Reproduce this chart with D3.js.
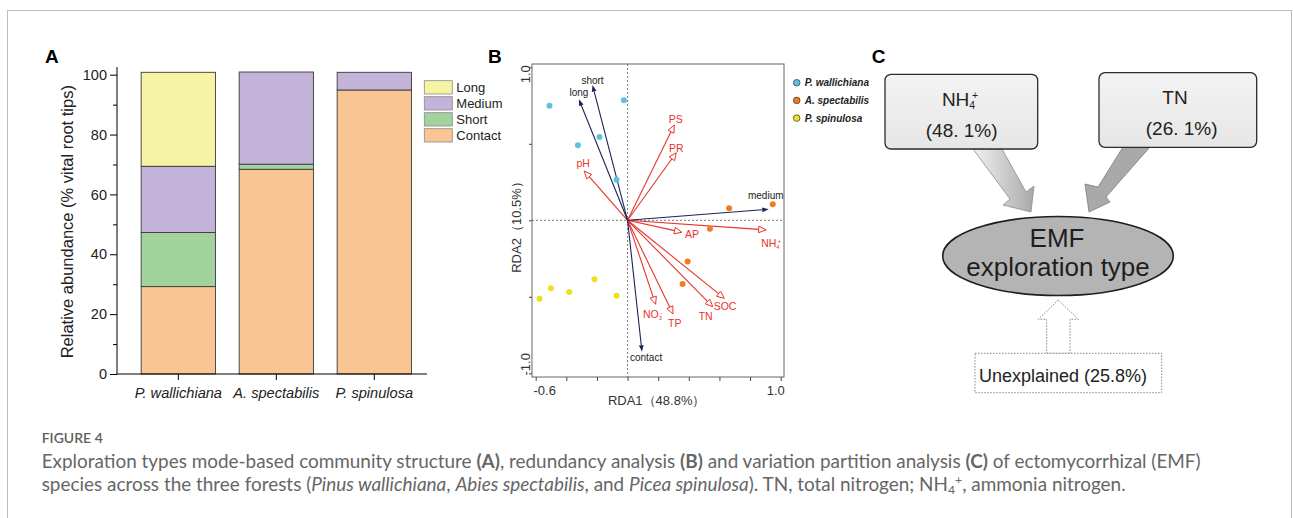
<!DOCTYPE html>
<html>
<head>
<meta charset="utf-8">
<script src="https://cdn.jsdelivr.net/npm/d3@7"></script>
<style>
  body { margin: 0; background: #fff; }
  svg { display: block; font-family: "Liberation Sans", Arial, sans-serif; }
</style>
</head>
<body>
<svg id="fig" width="1293" height="518"></svg>
<script>
// A: exploration type composition (% vital root tips)
const forests = ["P. wallichiana", "A. spectabilis", "P. spinulosa"];
const exploreTypes = ["Contact", "Short", "Medium", "Long"];
const contactPct = [29.2, 68.4, 94.9];
const shortPct = [18.1, 1.7, 0];
const mediumPct = [22.1, 30.8, 5.9];
const longPct = [31.4, 0, 0];
const abundanceTicks = [0, 20, 40, 60, 80, 100];

// B: RDA site scores, one pair of arrays per forest
const siteGroups = ["P. wallichiana", "A. spectabilis", "P. spinulosa"];
const pwRDA1 = [-0.51, -0.024, -0.183, -0.324, -0.072];
const pwRDA2 = [0.749, 0.784, 0.544, 0.49, 0.265];
const asRDA1 = [0.663, 0.948, 0.538, 0.392, 0.359];
const asRDA2 = [0.078, 0.105, -0.055, -0.27, -0.416];
const psRDA1 = [-0.575, -0.501, -0.381, -0.216, -0.072];
const psRDA2 = [-0.512, -0.444, -0.469, -0.386, -0.493];
// exploration type vectors
const typeNames = ["short", "long", "medium", "contact"];
const typeRDA1 = [-0.229, -0.318, 0.922, 0.094];
const typeRDA2 = [0.884, 0.791, 0.072, -0.859];
// soil variable vectors
const envNames = ["PS", "PR", "pH", "AP", "NH4+", "SOC", "TN", "TP", "NO3-"];
const envRDA1 = [0.305, 0.318, -0.283, 0.355, 0.905, 0.632, 0.556, 0.297, 0.183];
const envRDA2 = [0.623, 0.442, 0.322, -0.078, -0.063, -0.51, -0.565, -0.612, -0.549];
const rdaXTicks = [-0.6, -0.4, -0.2, 0, 0.2, 0.4, 0.6, 0.8, 1.0];
const rdaYTicks = [-1, -0.5, 0, 0.5, 1];
const rdaAxisPct = [48.8, 10.5];

// C: variation partitioning
const vpaNames = ["NH4+", "TN"];
const vpaPct = [48.1, 26.1];
const unexplainedPct = 25.8;

const svg = d3.select("#fig");

// outer frame of the figure
svg.append("rect")
    .attr("x", 7.5).attr("y", 10.5)
    .attr("width", 1284).attr("height", 540)
    .style("fill", "none").style("stroke", "#bdbdbd");

// NH4+ / NO3- style labels with sub- and superscript
function chem(sel, name, stacked) {
    const m = name.match(/^([A-Za-z]+)(\d)([+-])$/);
    if (!m) { sel.text(name); return; }
    sel.append("tspan").text(m[1]);
    sel.append("tspan").attr("font-size", "0.55em").attr("dy", "0.3em").text(m[2]);
    sel.append("tspan").attr("font-size", "0.55em").attr("dy", "-0.95em")
        .attr("dx", stacked ? "-0.3em" : 0).text(m[3] === "-" ? "-" : "+");
}

function panelLabel(txt, x) {
    svg.append("text").attr("x", x).attr("y", 63)
        .attr("font-size", 19).attr("font-weight", "bold").text(txt);
}

// ---------- A ----------
function drawBars() {
    const colors = {Contact: "#f9c592", Short: "#a2d39f", Medium: "#c3b3d8", Long: "#f7f3a5"};
    const rows = forests.map((f, i) => ({forest: f, Contact: contactPct[i], Short: shortPct[i],
                                         Medium: mediumPct[i], Long: longPct[i]}));
    const series = d3.stack().keys(exploreTypes)(rows);

    const x = d3.scaleBand().domain(forests).range([129.3, 423.3])
        .paddingInner(0.242).paddingOuter(0.121);
    const y = d3.scaleLinear().domain([0, 100]).range([374, 74.7]);

    const g = svg.append("g");
    g.selectAll("g.layer")
        .data(series)
        .join("g")
        .attr("class", "layer")
        .style("fill", d => colors[d.key])
        .selectAll("rect")
        .data(d => d.filter(s => s[1] - s[0] > 0))
        .join("rect")
        .attr("x", d => x(d.data.forest))
        .attr("y", d => y(d[1]))
        .attr("width", x.bandwidth())
        .attr("height", d => y(d[0]) - y(d[1]))
        .style("stroke", "#3a3a3a").style("stroke-width", 0.9);

    // y axis
    const yAxis = g.append("g").attr("transform", "translate(117,0)")
        .call(d3.axisLeft(y).tickValues(abundanceTicks).tickSize(7).tickPadding(3));
    yAxis.select(".domain").remove();
    yAxis.selectAll("text").attr("font-size", 14.5).attr("font-family", "Liberation Sans, Arial")
        .attr("fill", "#222");
    g.append("g").attr("transform", "translate(117,0)")
        .call(d3.axisLeft(y).tickValues(d3.range(10, 100, 20)).tickSize(4).tickFormat(""))
        .select(".domain").remove();
    g.append("line").attr("x1", 117).attr("x2", 117).attr("y1", 67).attr("y2", 374)
        .style("stroke", "#000");

    // x axis
    const xAxis = g.append("g").attr("transform", "translate(0,374)")
        .call(d3.axisBottom(x).tickSize(6).tickPadding(8));
    xAxis.select(".domain").remove();
    xAxis.selectAll("text").attr("font-size", 14.6).attr("font-style", "italic")
        .attr("font-family", "Liberation Sans, Arial").attr("fill", "#222");
    g.append("line").attr("x1", 117).attr("x2", 427).attr("y1", 374).attr("y2", 374)
        .style("stroke", "#000");

    g.append("text")
        .attr("transform", "translate(72.5,221.7) rotate(-90)")
        .attr("text-anchor", "middle").attr("font-size", 16.5).attr("fill", "#222")
        .text("Relative abundance (% vital root tips)");

    // legend, top to bottom
    const legend = g.selectAll("g.leg")
        .data(exploreTypes.slice().reverse())
        .join("g")
        .attr("class", "leg")
        .attr("transform", (d, i) => `translate(424.3,${80.7 + i * 16})`);
    legend.append("rect").attr("width", 28).attr("height", 13.3)
        .style("fill", d => colors[d]).style("stroke", "#8a8a8a").style("stroke-width", 0.8);
    legend.append("text").attr("x", 32).attr("y", 11.3).attr("font-size", 13)
        .attr("fill", "#222").text(d => d);
}

// ---------- B ----------
function drawRda() {
    const x = d3.scaleLinear().domain([-0.6, 1.0]).range([535.7, 780.7]);
    const y = d3.scaleLinear().domain([-1, 1]).range([373.3, 67.3]);
    const frame = {x0: 532, x1: 784, y0: 64, y1: 377};
    const g = svg.append("g");

    g.append("rect").attr("x", frame.x0).attr("y", frame.y0)
        .attr("width", frame.x1 - frame.x0).attr("height", frame.y1 - frame.y0)
        .style("fill", "none").style("stroke", "#666").style("stroke-width", 1);

    // zero lines
    g.append("line").attr("x1", x(0)).attr("x2", x(0)).attr("y1", frame.y0).attr("y2", frame.y1)
        .style("stroke", "#777").style("stroke-dasharray", "2,2");
    g.append("line").attr("x1", frame.x0).attr("x2", frame.x1).attr("y1", y(0)).attr("y2", y(0))
        .style("stroke", "#777").style("stroke-dasharray", "2,2");

    // ticks
    const xa = g.append("g").attr("transform", `translate(0,${frame.y1})`)
        .call(d3.axisBottom(x).tickValues(rdaXTicks).tickSize(4).tickFormat(""));
    xa.select(".domain").remove();
    xa.selectAll("line").style("stroke", "#444");
    const ya = g.append("g").attr("transform", `translate(${frame.x0},0)`)
        .call(d3.axisLeft(y).tickValues(rdaYTicks).tickSize(3).tickFormat(""));
    ya.select(".domain").remove();
    ya.selectAll("line").style("stroke", "#444");

    const xEnds = [rdaXTicks[0], rdaXTicks[rdaXTicks.length - 1]];
    g.selectAll("text.xt").data(xEnds).join("text").attr("class", "xt")
        .attr("x", (d, i) => x(d) + (i === 0 ? 9 : -5)).attr("y", 395)
        .attr("text-anchor", "middle").attr("font-size", 13).attr("fill", "#333")
        .text(d => d3.format(".1f")(d).replace("−", "-"));
    const yEnds = [rdaYTicks[rdaYTicks.length - 1], rdaYTicks[0]];
    g.selectAll("text.yt").data(yEnds).join("text").attr("class", "yt")
        .attr("transform", (d, i) => `translate(529.5,${y(d) + (i === 0 ? 7 : -9)}) rotate(-90)`)
        .attr("text-anchor", "middle").attr("font-size", 13).attr("fill", "#333")
        .text(d => d3.format(".1f")(d).replace("−", "-"));

    g.append("text").attr("x", 656.7).attr("y", 405).attr("text-anchor", "middle")
        .attr("font-size", 13).attr("fill", "#333")
        .text(`RDA1（${rdaAxisPct[0]}%）`);
    g.append("text").attr("transform", "translate(521,224) rotate(-90)")
        .attr("text-anchor", "middle").attr("font-size", 13).attr("fill", "#333")
        .text(`RDA2（${rdaAxisPct[1]}%）`);

    const origin = [x(0), y(0)];
    const unit = (a, b) => { const l = Math.hypot(a, b); return [a / l, b / l]; };

    // soil vectors: red with open heads
    const red = "#e8332a";
    envNames.forEach((name, i) => {
        const tx = x(envRDA1[i]), ty = y(envRDA2[i]);
        const [ux, uy] = unit(tx - origin[0], ty - origin[1]);
        const len = 7.5, half = 3.3;
        const bx = tx - ux * len, by = ty - uy * len;
        g.append("line").attr("x1", origin[0]).attr("y1", origin[1]).attr("x2", bx).attr("y2", by)
            .style("stroke", red).style("stroke-width", 1.1);
        g.append("path")
            .attr("d", `M${tx},${ty}L${bx - uy * half},${by + ux * half}L${bx + uy * half},${by - ux * half}Z`)
            .style("fill", "#fff").style("stroke", red).style("stroke-width", 1);
    });
    // exploration type vectors: navy with filled heads
    const navy = "#1c2457";
    typeNames.forEach((name, i) => {
        const tx = x(typeRDA1[i]), ty = y(typeRDA2[i]);
        const [ux, uy] = unit(tx - origin[0], ty - origin[1]);
        const len = 6.5, half = 2.4;
        const bx = tx - ux * len, by = ty - uy * len;
        g.append("line").attr("x1", origin[0]).attr("y1", origin[1]).attr("x2", bx).attr("y2", by)
            .style("stroke", navy).style("stroke-width", 1.1);
        g.append("path")
            .attr("d", `M${tx},${ty}L${bx - uy * half},${by + ux * half}L${bx + uy * half},${by - ux * half}Z`)
            .style("fill", navy);
    });

    // label offsets from the arrow tips
    const envLab = {"PS": [1.5, -1.5, "middle"], "PR": [0, -1, "middle"], "pH": [-1, -4, "middle"],
                    "AP": [3, 5.5, "start"], "NH4+": [-5, 17, "start"], "SOC": [-10.7, 11.7, "start"],
                    "TN": [-14, 13.3, "start"], "TP": [-5, 12.7, "start"], "NO3-": [-12.6, 14, "start"]};
    const typeLab = {"short": [0, -1.5, "middle"], "long": [0, -3, "middle"],
                     "medium": [-3, -10.5, "middle"], "contact": [-12, 9, "start"]};
    envNames.forEach((name, i) => {
        const o = envLab[name];
        g.append("text").attr("x", x(envRDA1[i]) + o[0]).attr("y", y(envRDA2[i]) + o[1])
            .attr("text-anchor", o[2]).attr("font-size", 10.5).attr("fill", red)
            .call(chem, name, true);
    });
    typeNames.forEach((name, i) => {
        const o = typeLab[name];
        g.append("text").attr("x", x(typeRDA1[i]) + o[0]).attr("y", y(typeRDA2[i]) + o[1])
            .attr("text-anchor", o[2]).attr("font-size", 10).attr("fill", "#222").text(name);
    });

    // site points
    const pointColors = ["#5cc3dc", "#ef7b27", "#f0df1c"];
    const sites = [[pwRDA1, pwRDA2], [asRDA1, asRDA2], [psRDA1, psRDA2]];
    sites.forEach(([r1, r2], gi) => {
        g.append("g").selectAll("circle")
            .data(r1.map((v, i) => [v, r2[i]]))
            .join("circle")
            .attr("cx", d => x(d[0])).attr("cy", d => y(d[1])).attr("r", 3)
            .style("fill", pointColors[gi]);
    });

    // legend
    const leg = g.selectAll("g.rleg").data(siteGroups).join("g").attr("class", "rleg")
        .attr("transform", (d, i) => `translate(796.7,${82.7 + i * 17.7})`);
    leg.append("circle").attr("r", 3.3)
        .style("fill", (d, i) => pointColors[i]).style("stroke", "#333").style("stroke-width", 0.7);
    leg.append("text").attr("x", 8).attr("y", 3.6).attr("font-size", 10)
        .attr("font-weight", "bold").attr("font-style", "italic").attr("fill", "#222").text(d => d);
}

// ---------- C ----------
function drawVpa() {
    const g = svg.append("g");
    const defs = svg.append("defs");
    const grad = defs.append("linearGradient").attr("id", "leftArrow")
        .attr("x1", "0%").attr("x2", "100%").attr("y1", "0%").attr("y2", "0%");
    grad.append("stop").attr("offset", "0%").attr("stop-color", "#f2f2f2");
    grad.append("stop").attr("offset", "100%").attr("stop-color", "#a8a8a8");
    const boxGrad = defs.append("linearGradient").attr("id", "boxFill")
        .attr("x1", "0%").attr("x2", "0%").attr("y1", "0%").attr("y2", "100%");
    boxGrad.append("stop").attr("offset", "0%").attr("stop-color", "#f3f3f3");
    boxGrad.append("stop").attr("offset", "100%").attr("stop-color", "#e6e6e6");

    // block arrows into the ellipse
    g.append("path")
        .attr("d", "M973,149L1002,149L1026,192L1034,186L1031,212L1003,205L1010,199Z")
        .style("fill", "url(#leftArrow)").style("stroke", "#8c8c8c").style("stroke-width", 0.8);
    g.append("path")
        .attr("d", "M1123,147L1150,147L1106,197L1110,202L1089,212L1085,184L1098,187Z")
        .style("fill", "#a9a9a9").style("stroke", "#7c7c7c").style("stroke-width", 0.8);

    const boxes = [{x: 885, y: 74.3, w: 152.7, h: 74.7, cx: 960, cx2: 961.7},
                   {x: 1099, y: 72.7, w: 157.7, h: 74.6, cx: 1175, cx2: 1181.7}];
    vpaNames.forEach((name, i) => {
        const b = boxes[i];
        g.append("rect").attr("x", b.x).attr("y", b.y).attr("width", b.w).attr("height", b.h)
            .attr("rx", 6).style("fill", "url(#boxFill)").style("stroke", "#2b2b2b").style("stroke-width", 1.3);
        g.append("text").attr("x", b.cx).attr("y", b.y + 31.5).attr("text-anchor", "middle")
            .attr("font-size", 19).attr("fill", "#222").call(chem, name, true);
        g.append("text").attr("x", b.cx2).attr("y", b.y + 62.4).attr("text-anchor", "middle")
            .attr("font-size", 19).attr("fill", "#222")
            .text(`(${String(vpaPct[i]).replace(".", ". ")}%)`);
    });

    g.append("ellipse").attr("cx", 1058).attr("cy", 256).attr("rx", 115.3).attr("ry", 39.5)
        .style("fill", "#b4b4b4").style("stroke", "#1e1e1e").style("stroke-width", 1.6);
    g.append("text").attr("x", 1057).attr("y", 247).attr("text-anchor", "middle")
        .attr("font-size", 26).attr("fill", "#1e1e1e").text("EMF");
    g.append("text").attr("x", 1058).attr("y", 276).attr("text-anchor", "middle")
        .attr("font-size", 26).attr("fill", "#1e1e1e").text("exploration type");

    // unexplained, dotted
    g.append("path")
        .attr("d", "M1058.3,300L1078.3,319.3L1070,319.3L1070,353.3L1046.7,353.3L1046.7,319.3L1038.3,319.3Z")
        .style("fill", "#fff").style("stroke", "#777").style("stroke-width", 0.9)
        .style("stroke-dasharray", "1.5,1.5");
    g.append("rect").attr("x", 975).attr("y", 353.3).attr("width", 186.7).attr("height", 39.4)
        .style("fill", "#fff").style("stroke", "#777").style("stroke-width", 0.9)
        .style("stroke-dasharray", "1.5,1.5");
    g.append("text").attr("x", 1063).attr("y", 381.7).attr("text-anchor", "middle")
        .attr("font-size", 18).attr("fill", "#222").text(`Unexplained (${unexplainedPct}%)`);
}

// ---------- caption ----------
function drawCaption() {
    const g = svg.append("g").attr("fill", "#666").attr("font-family", "Lato, 'Open Sans', sans-serif");
    g.append("text").attr("x", 41.7).attr("y", 443.3).attr("font-size", 14)
        .attr("font-weight", 600).attr("fill", "#5f5f5f").text("FIGURE 4");

    const line1 = [["Exploration types mode-based community structure ", ""], ["(A)", "b"],
                   [", redundancy analysis ", ""], ["(B)", "b"], [" and variation partition analysis ", ""],
                   ["(C)", "b"], [" of ectomycorrhizal (EMF)", ""]];
    const line2 = [["species across the three forests (", ""], ["Pinus wallichiana", "i"], [", ", ""],
                   ["Abies spectabilis", "i"], [", and ", ""], ["Picea spinulosa", "i"],
                   ["). TN, total nitrogen; NH", ""], ["4", "sub"], ["+", "sup"], [", ammonia nitrogen.", "back"]];

    const lines = [[line1, 467.7], [line2, 490.5]].map(([parts, yy]) => {
        const t = g.append("text").attr("x", 41.7).attr("y", yy).attr("font-size", 16);
        parts.forEach(([s, k]) => {
            const sp = t.append("tspan").text(s);
            if (k === "b") sp.attr("font-weight", "bold");
            if (k === "i") sp.attr("font-style", "italic");
            if (k === "sub") sp.attr("font-size", "0.65em").attr("dy", "0.25em");
            if (k === "sup") sp.attr("font-size", "0.65em").attr("dy", "-0.75em");
            if (k === "back") sp.attr("dy", "0.33em");
        });
        return t;
    });
    // scale the caption so the first line spans the same width as the reference
    const w = lines[0].node().getComputedTextLength();
    const fs = 16 * 1160 / w;
    lines.forEach(t => t.attr("font-size", fs));
}

panelLabel("A", 45);
panelLabel("B", 488);
panelLabel("C", 871.7);
drawBars();
drawRda();
drawVpa();
drawCaption();
</script>
</body>
</html>
